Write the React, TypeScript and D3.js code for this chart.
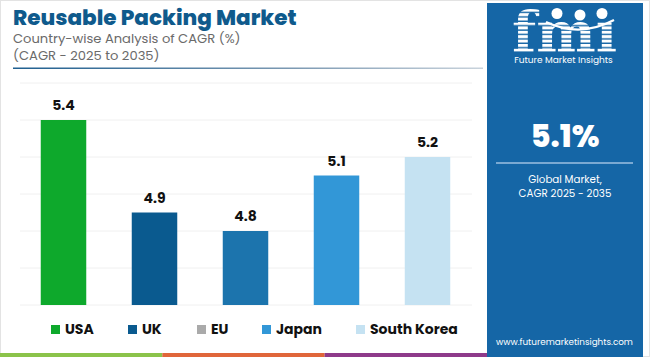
import React from "react";
import * as d3 from "d3";

const categories = ["USA", "UK", "EU", "Japan", "South Korea"];
const values = [5.4, 4.9, 4.8, 5.1, 5.2];
const barColors = ["#0ea92c", "#0a5a8f", "#1c74ad", "#3297d7", "#c5e2f2"];
const legendColors = ["#0ea92c", "#0a5a8f", "#aaaaaa", "#3297d7", "#c5e2f2"];
const gridTicks = [4.4, 4.6, 4.8, 5.0, 5.2, 5.4, 5.6];
const stripeColors = ["#8bc34a", "#e0663a", "#8e3a8a"];

const W = 650;
const H = 357;
const FONT = "Poppins, Inter, 'Open Sans', sans-serif";

export default function App() {
  const x = d3
    .scaleBand<string>()
    .domain(categories)
    .range([18, 473])
    .paddingInner(0.5)
    .paddingOuter(0.25);
  const y = d3.scaleLinear().domain([4.4, 5.6]).range([305, 83]);
  const stripeX = d3.scaleLinear().domain([0, 3]).range([0, 487]);

  const legendX = [51, 128, 197, 262, 356];
  const panelX = 487;
  const panelW = 156;
  const cx = panelX + panelW / 2;

  return (
    <div style={{ position: "fixed", left: 0, top: 0 }}>
      <svg width={W} height={H} style={{ display: "block", fontFamily: FONT }}>
        <defs>
          <linearGradient id="ul" x1="0" x2="1" y1="0" y2="0">
            <stop offset="0" stopColor="#1f5f90" />
            <stop offset="0.6" stopColor="#7d9ab3" />
            <stop offset="1" stopColor="#c9d3dc" />
          </linearGradient>
          <pattern id="stripes" patternUnits="userSpaceOnUse" width="8" height="4.4">
            <rect x="0" y="0" width="8" height="3" fill="#ffffff" />
          </pattern>
        </defs>
        <rect x={0} y={0} width={W} height={H} fill="#ffffff" />
        <rect x={0.5} y={0.5} width={W - 1} height={H - 1} fill="none" stroke="#e3e3e3" />

        {/* Title */}
        <text x={13} y={25} fontSize={21.5} fontWeight={800} fill="#0f5a8c">
          Reusable Packing Market
        </text>
        <text x={13} y={43} fontSize={13.1} fill="#6a6a6a">
          Country-wise Analysis of CAGR (%)
        </text>
        <text x={13} y={60} fontSize={13.1} fill="#6a6a6a">
          (CAGR - 2025 to 2035)
        </text>
        <rect x={13} y={67.5} width={470} height={1.5} fill="url(#ul)" />

        {/* Grid */}
        {gridTicks.map((t) => (
          <line
            key={t}
            x1={20}
            x2={472}
            y1={y(t)}
            y2={y(t)}
            stroke="#f0f0f0"
            strokeWidth={1}
          />
        ))}

        {/* Bars */}
        {categories.map((c, i) => (
          <g key={c}>
            <rect
              x={x(c)}
              y={y(values[i])}
              width={x.bandwidth()}
              height={y(4.4) - y(values[i])}
              fill={barColors[i]}
            />
            <text
              x={(x(c) as number) + x.bandwidth() / 2}
              y={y(values[i]) - 10}
              textAnchor="middle"
              fontSize={14}
              fontWeight={700}
              fill="#111111"
            >
              {values[i].toFixed(1)}
            </text>
          </g>
        ))}

        {/* Legend */}
        {categories.map((c, i) => (
          <g key={"lg" + c}>
            <rect x={legendX[i]} y={325} width={9} height={9} fill={legendColors[i]} />
            <text x={legendX[i] + 14} y={334} fontSize={14} fontWeight={700} fill="#111111">
              {c}
            </text>
          </g>
        ))}

        {/* Bottom stripes */}
        {stripeColors.map((col, i) => (
          <rect
            key={col}
            x={stripeX(i)}
            y={353}
            width={stripeX(i + 1) - stripeX(i)}
            height={4}
            fill={col}
          />
        ))}

        {/* Right panel */}
        <rect x={panelX} y={3} width={panelW} height={H - 3} fill="#1566a6" />
        <text
          x={512}
          y={52}
          fontSize={56}
          fontWeight={900}
          fontFamily="'DejaVu Serif', serif"
          fill="url(#stripes)"
          textLength={105}
          lengthAdjust="spacingAndGlyphs"
        >
          fmı
        </text>
        {[557, 580, 602].map((px, i) => (
          <circle key={px} cx={px} cy={i === 1 ? 15 : 13.5} r={5.5} fill="#ffffff" />
        ))}
        <path
          d="M546,22 Q580,38 614,20"
          fill="none"
          stroke="#ffffff"
          strokeWidth={2.2}
        />
        <text x={563.5} y={63} textAnchor="middle" fontSize={9} fill="#ffffff">
          Future Market Insights
        </text>
        <text
          x={cx}
          y={147}
          textAnchor="middle"
          fontSize={32}
          fontWeight={800}
          fill="#ffffff"
          textLength={69}
          lengthAdjust="spacingAndGlyphs"
        >
          5.1%
        </text>
        <line x1={496} x2={633} y1={163} y2={163} stroke="#9cc0e0" strokeWidth={1.5} />
        <text x={cx} y={183} textAnchor="middle" fontSize={10.3} fill="#ffffff">
          Global Market,
        </text>
        <text x={cx} y={197} textAnchor="middle" fontSize={10.3} fill="#ffffff">
          CAGR 2025 - 2035
        </text>
        <text x={564.5} y={345} textAnchor="middle" fontSize={8.8} fill="#ffffff">
          www.futuremarketinsights.com
        </text>
      </svg>
    </div>
  );
}
